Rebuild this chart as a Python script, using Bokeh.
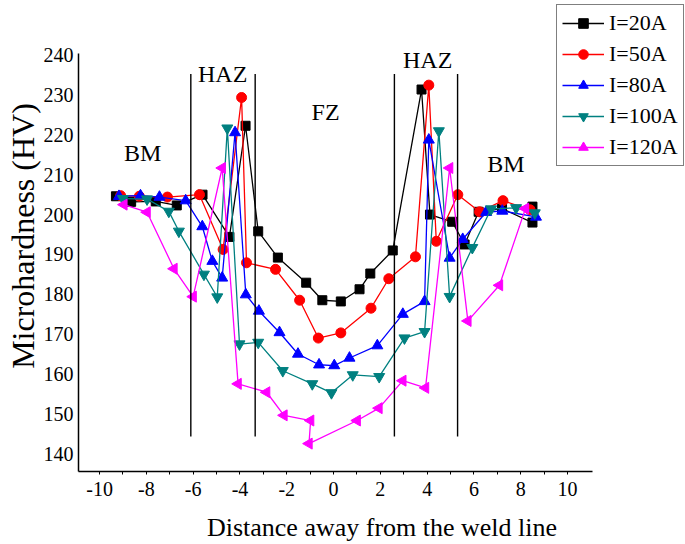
import numpy as np
from bokeh.plotting import figure
from bokeh.models import Range1d, Legend, LegendItem, FixedTicker
from bokeh.core.properties import value
from bokeh.embed import file_html
from bokeh.resources import INLINE

# ---- data ----
x20 = [-9.3, -8.65, -7.6, -6.7, -5.6, -4.45, -3.76, -3.22, -2.38, -1.17, -0.48, 0.31, 1.11, 1.57, 2.53, 3.76, 4.12, 5.07, 5.6, 6.2, 7.2, 8.5, 8.5]
y20 = [204.6, 203.2, 203.3, 202.3, 205.0, 194.4, 222.3, 195.8, 189.2, 182.9, 178.5, 178.2, 181.25, 185.2, 191.0, 231.4, 200.0, 198.2, 192.5, 200.7, 201.5, 198.0, 202.0]

x50 = [-9.1, -8.3, -7.1, -5.73, -4.72, -3.93, -3.72, -2.48, -1.45, -0.65, 0.31, 1.6, 2.36, 3.5, 4.07, 4.39, 5.31, 6.24, 7.24, 8.4]
y50 = [204.75, 204.6, 204.4, 205.0, 191.25, 229.4, 187.9, 186.25, 178.5, 169.0, 170.3, 176.5, 183.9, 189.4, 232.5, 193.3, 205.0, 200.7, 203.5, 201.2]

x80 = [-9.17, -8.25, -7.44, -6.32, -5.61, -5.18, -4.76, -4.21, -3.75, -3.19, -2.31, -1.52, -0.62, 0.03, 0.68, 1.87, 2.96, 3.89, 4.07, 4.96, 5.52, 6.52, 7.21, 8.65]
y80 = [204.6, 204.75, 204.4, 203.5, 197.0, 188.3, 184.1, 220.6, 179.9, 175.8, 170.4, 165.0, 162.3, 162.1, 164.0, 167.1, 175.0, 178.2, 218.75, 189.1, 193.8, 200.6, 200.9, 199.4]

x100 = [-9.0, -7.97, -7.04, -6.61, -5.54, -4.97, -4.54, -4.02, -3.22, -2.17, -0.91, -0.09, 0.82, 1.95, 3.03, 3.89, 4.5, 4.96, 5.93, 6.73, 7.8, 8.6]
y100 = [204.0, 203.9, 200.8, 195.8, 185.0, 179.3, 221.7, 167.5, 167.9, 160.8, 157.5, 155.25, 159.75, 159.3, 169.0, 170.6, 221.0, 179.4, 191.7, 201.4, 201.7, 200.4]

x120 = [-8.96, -7.97, -6.82, -6.0, -4.76, -4.08, -2.86, -2.12, -0.98, -1.05, 1.01, 1.94, 2.96, 3.93, 4.96, 5.74, 7.09, 8.2]
y120 = [202.5, 200.6, 186.4, 179.4, 211.7, 157.5, 155.4, 149.6, 148.3, 142.5, 148.3, 151.4, 158.3, 156.5, 211.7, 173.3, 182.25, 201.5]

series_labels = ["I=20A", "I=50A", "I=80A", "I=100A", "I=120A"]

zone_x = [-6.1, -3.35, 2.6, 5.3]
zone_bottom = 144.3
zone_top = 235.3

region_text = ["BM", "HAZ", "FZ", "HAZ", "BM"]
region_x = [-8.16, -4.74, -0.34, 4.02, 7.37]
region_y = [215.4, 235.25, 225.75, 238.75, 212.75]

x_ticks = [-10, -8, -6, -4, -2, 0, 2, 4, 6, 8, 10]
x_minor = [-9, -7, -5, -3, -1, 1, 3, 5, 7, 9]
y_ticks = [140, 150, 160, 170, 180, 190, 200, 210, 220, 230, 240]

FONT = "Liberation Serif"

# axis extents (the drawn axis lines); the frame is wider/taller to host the legend
x_axis_span = (-10.9, 11.07)
y_axis_span = (135.5, 240.5)

p = figure(width=685, height=544, output_backend="svg", toolbar_location=None,
           x_range=Range1d(-10.9, 15.04), y_range=Range1d(135.5, 253.75),
           min_border_left=78, min_border_right=0, min_border_top=0, min_border_bottom=71)
p.outline_line_color = None
p.xgrid.visible = False
p.ygrid.visible = False
p.background_fill_color = "white"

styles = [
    (x20, y20, "black", "square", 9, 0),
    (x50, y50, "red", "circle", 10, 0),
    (x80, y80, "blue", "triangle", 11, 0),
    (x100, y100, "#008080", "inverted_triangle", 11, 0),
    (x120, y120, "#ff00ff", "triangle", 11, np.pi / 2),
]

items = []
for (xs, ys, col, mk, sz, ang), lab in zip(styles, series_labels):
    r1 = p.line(xs, ys, line_color=col, line_width=1.3)
    r2 = p.scatter(xs, ys, marker=mk, size=sz, angle=ang, fill_color=col, line_color=col)
    items.append(LegendItem(label=lab, renderers=[r1, r2]))

p.segment(x0=zone_x, y0=[zone_bottom] * len(zone_x), x1=zone_x, y1=[zone_top] * len(zone_x),
          line_color="black", line_width=1.4)

p.text(x=region_x, y=region_y, text=region_text, text_font=value(FONT), text_font_size="24px",
       text_align="center", text_baseline="middle", text_color="black")

legend = Legend(items=items, location=(478, 305), border_line_color="black", border_line_width=1.3,
                background_fill_color="white", background_fill_alpha=1.0,
                label_text_font=FONT, label_text_font_size="22px", label_text_color="black",
                glyph_width=42, glyph_height=24, label_height=24, spacing=5, padding=5,
                label_standoff=5, margin=0)
p.add_layout(legend)

p.xaxis.ticker = FixedTicker(ticks=x_ticks, minor_ticks=x_minor)
p.xaxis.major_label_overrides = {t: str(t) for t in x_ticks}
p.yaxis.ticker = FixedTicker(ticks=y_ticks)
p.xaxis.bounds = x_axis_span
p.yaxis.bounds = y_axis_span
p.xaxis.axis_label = "Distance away from the weld line"
p.yaxis.axis_label = "Microhardness (HV)"
for ax in (p.xaxis, p.yaxis):
    ax.axis_line_color = "black"
    ax.axis_line_width = 1.5
    ax.major_label_text_font = FONT
    ax.major_label_text_font_size = "20px"
    ax.major_label_text_color = "black"
    ax.axis_label_text_font = FONT
    ax.axis_label_text_font_style = "normal"
    ax.axis_label_text_color = "black"
p.xaxis.axis_label_text_font_size = "26px"
p.yaxis.axis_label_text_font_size = "32px"
p.xaxis.major_tick_in = 0
p.xaxis.major_tick_out = 3
p.xaxis.minor_tick_in = 0
p.xaxis.minor_tick_out = 3
p.xaxis.major_tick_line_color = "black"
p.xaxis.minor_tick_line_color = "black"
p.xaxis.major_label_standoff = 7
p.xaxis.axis_label_standoff = 14
p.yaxis.major_tick_out = 0
p.yaxis.major_tick_in = 0
p.yaxis.minor_tick_out = 0
p.yaxis.minor_tick_in = 0
p.yaxis.major_label_standoff = 5
p.yaxis.axis_label_standoff = 0

open("out.html", "w").write(file_html(p, INLINE))
